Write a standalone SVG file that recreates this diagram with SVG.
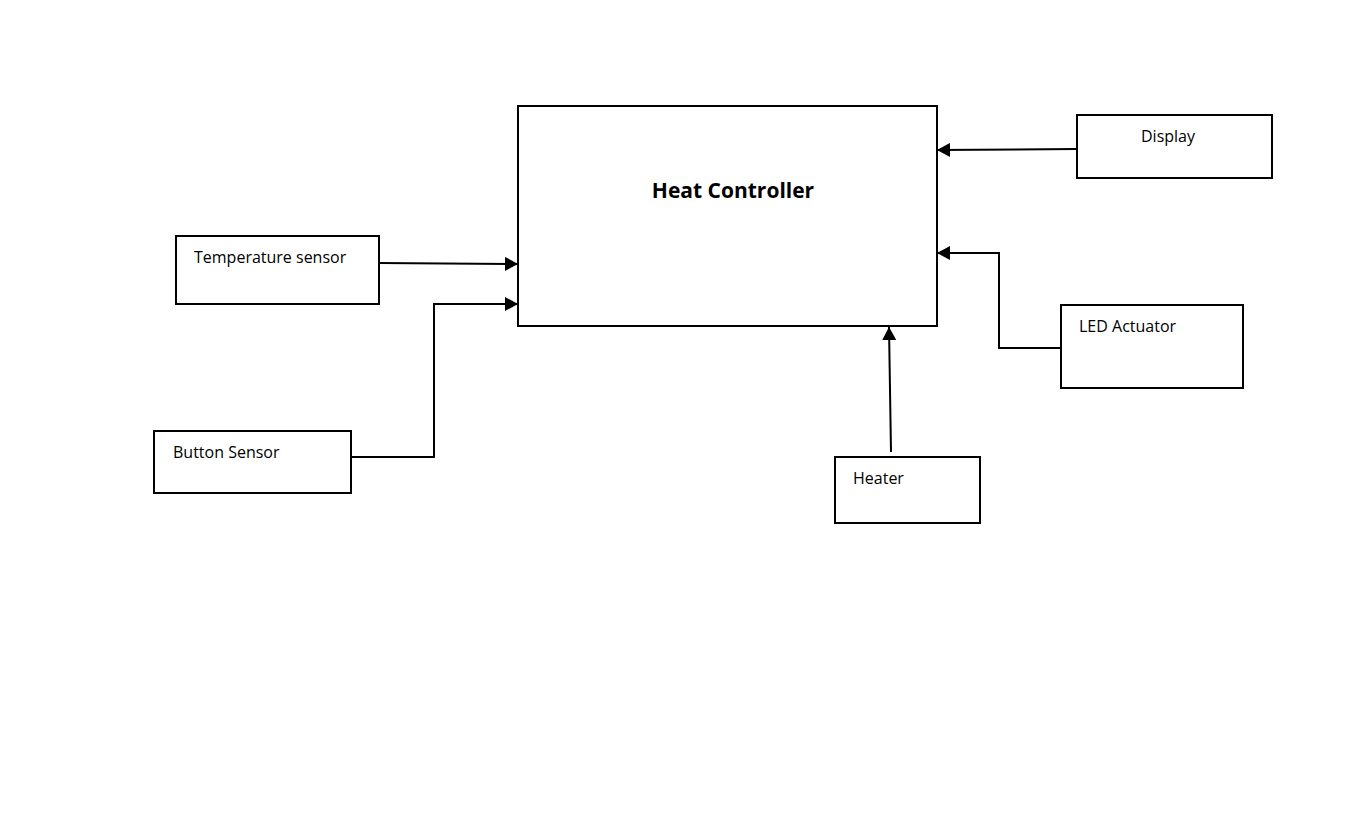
<svg xmlns="http://www.w3.org/2000/svg" width="1353" height="821" viewBox="0 0 1353 821">
<style>
.box{fill:#fff;stroke:#000;stroke-width:2}
.lbl{font-family:"Open Sans","Liberation Sans",sans-serif;font-size:16px;fill:#000}
.title{font-family:"Open Sans","Liberation Sans",sans-serif;font-size:21px;font-weight:bold;fill:#000}
.conn{fill:none;stroke:#000;stroke-width:2;marker-end:url(#ah)}
</style>
<defs>
<marker id="ah" markerUnits="userSpaceOnUse" markerWidth="14" markerHeight="14" refX="13" refY="7" orient="auto">
<path d="M0,0 L13,7 L0,14 Z" fill="#000"/>
</marker>
</defs>
<rect width="1353" height="821" fill="#fff"/>
<g id="heat-controller"><rect class="box" x="518" y="106" width="419" height="220"/><text class="title" x="733" y="198" text-anchor="middle">Heat Controller</text></g>
<g id="temperature-sensor"><rect class="box" x="176" y="236" width="203" height="68"/><text class="lbl" x="194" y="263">Temperature sensor</text></g>
<g id="button-sensor"><rect class="box" x="154" y="431" width="197" height="62"/><text class="lbl" x="173" y="458">Button Sensor</text></g>
<g id="display"><rect class="box" x="1077" y="115" width="195" height="63"/><text class="lbl" x="1141" y="142">Display</text></g>
<g id="led-actuator"><rect class="box" x="1061" y="305" width="182" height="83"/><text class="lbl" x="1079" y="332">LED Actuator</text></g>
<g id="heater"><rect class="box" x="835" y="457" width="145" height="66"/><text class="lbl" x="853" y="484">Heater</text></g>
<g id="connectors">
<path class="conn" d="M379,263 L518,264"/>
<path class="conn" d="M351,457 L434,457 L434,304 L518,304"/>
<path class="conn" d="M1077,149 L937,150"/>
<path class="conn" d="M1061,348 L999,348 L999,253 L937,253"/>
<path class="conn" d="M891,452 L889,327"/>
</g>
</svg>
